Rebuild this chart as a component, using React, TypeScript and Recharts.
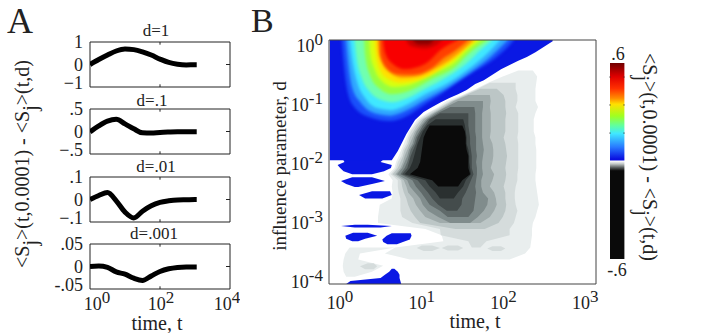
import {
  Area,
  Bar,
  BarChart,
  ComposedChart,
  Line,
  LineChart,
  ReferenceArea,
  ReferenceLine,
  XAxis,
  YAxis,
} from "recharts";

const SERIF = "'Liberation Serif', serif";
const INK = "#222";

// panel A: time samples and one curve per d
const sampleTimes = [1, 1.78, 3.16, 5.62, 10, 17.8, 31.6, 56.2, 100, 178, 316, 562, 1000, 1120];
const curveD1 = [0, 0.22, 0.42, 0.6, 0.69, 0.66, 0.56, 0.42, 0.24, 0.09, 0.01, -0.02, -0.01, -0.01];
const curveD01 = [-0.01, 0.125, 0.23, 0.27, 0.17, 0.06, -0.03, -0.035, -0.02, -0.012, -0.007, -0.007, -0.007, -0.007];
const curveD001 = [0, 0.018, 0.031, -0.006, -0.056, -0.082, -0.052, -0.028, -0.013, -0.006, -0.002, -0.001, 0, 0];
const curveD0001 = [0, 0.001, -0.002, -0.012, -0.017, -0.026, -0.031, -0.021, -0.011, -0.005, -0.002, -0.001, -0.001, -0.001];
const timeTicksA = [1, 100, 10000];

// panel B: the blue and rainbow levels, as log10 t and the lower edge in log10 d
const blueTime = [-0.09, 0.63, 0.7, 0.8, 0.9, 1, 1.1, 1.2, 1.3, 1.4, 1.5, 1.6, 1.7, 1.8, 1.9, 2, 2.1, 2.2, 2.3, 2.4, 2.5];
const blueEdge = [-1.97, -1.97, -1.82, -1.54, -1.31, -1.18, -1.1, -1.02, -0.95, -0.89, -0.82, -0.72, -0.66, -0.57, -0.48, -0.41, -0.34, -0.28, -0.2, -0.11, -0.02];
const azureTime = [0.05, 0.07, 0.12, 0.2, 0.4, 0.6, 0.8, 1, 1.2, 1.4, 1.6, 1.8, 2, 2.05];
const azureEdge = [-0.02, -0.36, -0.87, -1.11, -1.28, -1.33, -1.25, -1.07, -0.89, -0.69, -0.51, -0.33, -0.08, 0];
const skyTime = [0.1, 0.12, 0.17, 0.27, 0.43, 0.62, 0.78, 1.02, 1.28, 1.5, 1.75, 1.98];
const skyEdge = [-0.02, -0.33, -0.78, -1.03, -1.2, -1.24, -1.17, -0.98, -0.78, -0.57, -0.31, 0];
const cyanTime = [0.145, 0.17, 0.23, 0.32, 0.47, 0.63, 0.78, 1.02, 1.28, 1.52, 1.75, 1.89];
const cyanEdge = [-0.02, -0.31, -0.7, -0.95, -1.12, -1.15, -1.08, -0.89, -0.71, -0.48, -0.21, 0];
const mintTime = [0.2, 0.22, 0.28, 0.37, 0.5, 0.64, 0.8, 1.02, 1.28, 1.5, 1.68, 1.8];
const mintEdge = [-0.02, -0.28, -0.62, -0.84, -0.98, -1.02, -0.96, -0.8, -0.6, -0.38, -0.14, 0];
const greenTime = [0.31, 0.32, 0.38, 0.49, 0.63, 0.82, 1.1, 1.37, 1.52, 1.74];
const greenEdge = [-0.02, -0.25, -0.59, -0.8, -0.89, -0.84, -0.64, -0.44, -0.23, 0];
const limeTime = [0.37, 0.38, 0.43, 0.52, 0.65, 0.83, 1.1, 1.37, 1.5, 1.66];
const limeEdge = [-0.02, -0.22, -0.48, -0.68, -0.77, -0.74, -0.55, -0.36, -0.18, 0];
const yellowTime = [0.43, 0.44, 0.49, 0.59, 0.73, 0.9, 1.13, 1.25, 1.37, 1.48, 1.62];
const yellowEdge = [-0.02, -0.2, -0.48, -0.64, -0.7, -0.67, -0.54, -0.42, -0.3, -0.15, 0];
const orangeTime = [0.47, 0.48, 0.53, 0.61, 0.75, 0.92, 1.13, 1.3, 1.45, 1.58];
const orangeEdge = [-0.02, -0.2, -0.4, -0.53, -0.62, -0.6, -0.47, -0.33, -0.17, 0];
const vermilionTime = [0.49, 0.5, 0.57, 0.69, 0.87, 1.1, 1.25, 1.34, 1.52];
const vermilionEdge = [-0.02, -0.26, -0.46, -0.56, -0.57, -0.46, -0.28, -0.2, 0];
const redTime = [0.53, 0.55, 0.64, 0.78, 1.02, 1.2, 1.4];
const redEdge = [-0.02, -0.2, -0.39, -0.48, -0.39, -0.16, 0];
const crimsonTime = [0.8, 0.85, 1, 1.15, 1.22];
const crimsonEdge = [-0.02, -0.1, -0.14, -0.08, 0];
const maroonTime = [0.88, 0.95, 1.05, 1.12];
const maroonEdge = [-0.02, -0.07, -0.07, 0];

// panel B: rows of log10 d, for the grey levels read as left and right edge in log10 t
const rowDepths = [
  -0.5, -0.6, -0.7, -0.8, -0.9, -1, -1.1, -1.2, -1.3, -1.4, -1.5, -1.6, -1.7, -1.8, -1.9, -2, -2.1,
  -2.2, -2.3, -2.4, -2.5, -2.6, -2.7, -2.8, -2.9, -3, -3.1, -3.2, -3.3, -3.4, -3.5, -3.6, -3.7, -3.8,
];
const grey1Left = [2.1, 1.92, 1.75, 1.61, 1.45, 1.27, 1.17, 1.04, 0.93, 0.88, 0.83, 0.8, 0.77, 0.74, 0.71, 0.68, 0.66, 0.59, 0.64, 0.63, 0.64, 0.63, 0.49, 0.48, 0.47, 0.47, 1.02, 1.21, 1.23, 0.67, 0.55, 0.84];
const grey1Right = [2.27, 2.32, 2.31, 2.3, 2.3, 2.3, 2.33, 2.3, 2.28, 2.28, 2.28, 2.3, 2.3, 2.31, 2.31, 2.31, 2.31, 2.3, 2.3, 2.31, 2.32, 2.33, 2.34, 2.32, 2.3, 2.27, 2.26, 2.26, 2.25, 2.24, 2.18, 2];
const grey2Left = [1.77, 1.63, 1.47, 1.31, 1.19, 1.06, 0.96, 0.9, 0.85, 0.82, 0.8, 0.76, 0.74, 0.7, 0.68, 0.62, 0.7, 0.7, 0.71, 0.73, 0.73, 0.73, 0.75, 0.87, 1.19, 1.2, 1.52, 1.56];
const grey2Right = [2.07, 2.07, 2.09, 2.09, 2.07, 2.1, 2.1, 2.1, 2.1, 2.09, 2.1, 2.1, 2.1, 2.1, 2.1, 2.09, 2.09, 2.07, 2.06, 2.06, 2.07, 2.09, 2.07, 2.05, 2, 2, 1.73, 1.66];
const grey3Left = [1.66, 1.49, 1.33, 1.21, 1.09, 0.98, 0.92, 0.88, 0.84, 0.82, 0.78, 0.76, 0.73, 0.7, 0.64, 0.74, 0.75, 0.77, 0.8, 0.82, 0.85, 0.9, 0.96, 1.37];
const grey3Right = [1.85, 1.93, 1.95, 1.95, 1.96, 1.95, 1.95, 1.95, 1.93, 1.95, 1.96, 1.97, 1.96, 1.95, 1.96, 1.95, 1.93, 1.95, 1.95, 1.96, 1.95, 1.92, 1.87, 1.71];
const grey4Left = [1.52, 1.35, 1.24, 1.11, 1, 0.95, 0.9, 0.87, 0.84, 0.81, 0.78, 0.76, 0.73, 0.67, 0.77, 0.8, 0.82, 0.88, 0.91, 0.96, 1.02, 1.19];
const grey4Right = [1.77, 1.78, 1.77, 1.78, 1.78, 1.78, 1.78, 1.77, 1.8, 1.81, 1.81, 1.8, 1.78, 1.82, 1.8, 1.77, 1.82, 1.84, 1.85, 1.82, 1.77, 1.66];
const grey5Left = [1.4, 1.26, 1.13, 1.03, 0.97, 0.92, 0.89, 0.87, 0.83, 0.81, 0.78, 0.75, 0.69, 0.81, 0.84, 0.9, 0.96, 0.99, 1.05, 1.17, 1.31];
const grey5Right = [1.69, 1.69, 1.68, 1.68, 1.68, 1.68, 1.68, 1.69, 1.7, 1.69, 1.68, 1.68, 1.69, 1.67, 1.67, 1.69, 1.75, 1.74, 1.7, 1.63, 1.54];
const grey6Left = [1.31, 1.16, 1.05, 0.99, 0.95, 0.91, 0.89, 0.85, 0.83, 0.81, 0.78, 0.73, 0.87, 0.91, 0.97, 1.02, 1.07, 1.19, 1.28];
const grey6Right = [1.59, 1.6, 1.6, 1.6, 1.6, 1.61, 1.61, 1.61, 1.62, 1.61, 1.62, 1.62, 1.61, 1.6, 1.61, 1.6, 1.59, 1.58, 1.52];
const grey7Left = [1.19, 1.07, 1.02, 0.97, 0.93, 0.91, 0.88, 0.85, 0.83, 0.81, 0.75, 0.93, 0.99, 1.05, 1.1, 1.17, 1.27];
const grey7Right = [1.52, 1.52, 1.52, 1.53, 1.54, 1.54, 1.55, 1.56, 1.56, 1.56, 1.58, 1.55, 1.52, 1.49, 1.45, 1.44, 1.39];
const grey8Left = [1.14, 1.04, 0.99, 0.96, 0.93, 0.91, 0.89, 0.87, 0.84, 0.78, 1.02, 1.07, 1.14, 1.19];
const grey8Right = [1.46, 1.48, 1.49, 1.5, 1.5, 1.52, 1.53, 1.53, 1.54, 1.55, 1.49, 1.46, 1.4, 1.35];
const blackLeft = [1.07, 1.03, 1, 0.99, 0.98, 0.97, 0.96, 0.93, 0.84, 1.1, 1.17];
const blackRight = [1.45, 1.48, 1.49, 1.49, 1.5, 1.52, 1.52, 1.52, 1.54, 1.45, 1.4];

// panel B: loose patches, each as depth rows with left and right edge
const paleBlobDepth = [-3.4, -3.5, -3.6, -3.7, -3.8, -3.88];
const paleBlobLeft = [0.14, 0.09, 0.07, 0.06, 0.07, 0.1];
const paleBlobRight = [0.67, 0.26, 0.24, 0.53, 0.4, 0.2];
const spotADepth = [-3.37, -3.41, -3.46];
const spotALeft = [0.98, 0.92, 1];
const spotARight = [1.1, 1.19, 1.1];
const spotBDepth = [-3.37, -3.41, -3.45];
const spotBLeft = [1.28, 1.21, 1.28];
const spotBRight = [1.4, 1.46, 1.4];
const spotCDepth = [-3.38, -3.42, -3.46];
const spotCLeft = [1.8, 1.74, 1.8];
const spotCRight = [1.9, 1.95, 1.9];
const spotDDepth = [-3.66, -3.71, -3.76];
const spotDLeft = [0.35, 0.26, 0.32];
const spotDRight = [0.42, 0.46, 0.42];

const lobeDepth = [-1.95, -2, -2.05, -2.1, -2.15, -2.2];
const lobeLeft = [0.06, 0.08, 0, 0.03, 0.07, 0.17];
const lobeRight = [0.54, 0.5, 0.63, 0.62, 0.54, 0.4];
const isleADepth = [-2.25, -2.31, -2.36, -2.41];
const isleALeft = [0.17, 0.04, 0.1, 0.2];
const isleARight = [0.4, 0.55, 0.4, 0.24];
const isleBDepth = [-2.48, -2.54, -2.6];
const isleBLeft = [0.4, 0.25, 0.32];
const isleBRight = [0.61, 0.63, 0.52];
const streakDepth = [-3.03, -3.05, -3.075];
const streakLeft = [0.2, 0.04, 0.2];
const streakRight = [0.35, 0.63, 0.5];
const isleCDepth = [-3.16, -3.21, -3.26, -3.3];
const isleCLeft = [0.18, 0.09, 0.1, 0.17];
const isleCRight = [0.35, 0.46, 0.32, 0.24];
const isleDDepth = [-3.17, -3.21, -3.27, -3.31, -3.35];
const isleDLeft = [0.63, 0.57, 0.52, 0.53, 0.58];
const isleDRight = [0.85, 0.86, 0.84, 0.76, 0.69];
const footDepth = [-3.75, -3.8, -3.85, -3.9, -3.95, -4];
const footLeft = [0.63, 0.6, 0.55, 0.5, 0.15, 0.1];
const footRight = [0.66, 0.7, 0.72, 0.72, 0.73, 0.74];

const timeTicksB = [1, 10, 100, 1000];
const depthTicksB = [1, 0.1, 0.01, 0.001, 0.0001];

// colour bar
const colorStops = [0, 0.07, 0.13, 0.18, 0.21, 0.27, 0.32, 0.36, 0.43, 0.49, 0.495, 0.5, 0.515, 0.535, 0.55, 1];
const colorValues = ["#700000", "#e00000", "#ff3000", "#ff8c00", "#ffe000", "#a0ff20", "#60ffa0", "#40e8ff", "#2878ff", "#0a10e0", "#0a10e0", "#ffffff", "#c0c6c6", "#505555", "#0a0a0a", "#0a0a0a"];
const colorTicks = [0.514, 0.343, 0.171];
const colorRange = [{ name: "scale", span: [-0.6, 0.6] }];

// the contours were read on 86 and 61 px per decade, the axes run at 81.7 and 59
const toTime = (e: number) => 10 ** (e * 1.0526 - 0.029);
const toDepth = (e: number) => 10 ** (e * 1.0339);

// the upper edge runs past the frame, the chart clips it there
const rainbow = (times: number[], edge: number[]) =>
  times.map((t, i) => ({ t: toTime(t), d: [toDepth(edge[i]), 1.6] }));

const patch = (depths: number[], left: number[], right: number[]) =>
  depths.map((d, i) => ({ d: toDepth(d), t: [toTime(left[i]), toTime(right[i])] }));

const level = (firstRow: number, left: number[], right: number[]) =>
  patch(rowDepths.slice(firstRow, firstRow + left.length), left, right);

const TIME_DOMAIN = [10 ** -0.134, 10 ** 3.133];
const DEPTH_DOMAIN = [10 ** -4.136, 1];
const BLUE = "#0a18e4";

function PowerTick({ x, y, value, anchor, dx = 0, dy = 0 }: any) {
  const power = Math.round(Math.log10(value));
  return (
    <text x={x + dx} y={y + dy} textAnchor={anchor} fontFamily={SERIF} fontSize={18} fill={INK}>
      <tspan>10</tspan>
      <tspan dy={-7} fontSize={17}>{power}</tspan>
    </text>
  );
}

function SmallPanel({ top, values, ticks, labels, showTime }: any) {
  const data = sampleTimes.map((t, i) => ({ t, v: values[i] }));
  const edgeShift = [7, 1, -3];
  const low = ticks[2];
  const high = ticks[0];
  const nub = (high - low) * 0.06;
  return (
    <div style={{ position: "absolute", left: 0, top: top - 10 }}>
      <LineChart
        width={240}
        height={showTime ? 100 : 65}
        data={data}
        margin={{ top: 10, right: 10, bottom: showTime ? 0 : 10, left: 55 }}
      >
        <XAxis
          dataKey="t"
          type="number"
          scale="log"
          domain={[1, 10000]}
          allowDataOverflow
          ticks={timeTicksA}
          height={showTime ? 45 : 0}
          hide={!showTime}
          axisLine={false}
          tickLine={false}
          interval={0}
          tick={(p: any) => (
            <PowerTick x={p.x} y={p.y} value={p.payload.value} anchor="middle" dx={edgeShift[p.index]} dy={13} />
          )}
        />
        <YAxis
          type="number"
          domain={[low, high]}
          ticks={ticks}
          width={35}
          axisLine={false}
          tickLine={false}
          interval={0}
          tick={(p: any) => (
            <text
              x={p.x + 1}
              y={p.y + (p.payload.value < 0 ? 2 : 6)}
              textAnchor="end"
              fontFamily={SERIF}
              fontSize={18}
              fill={INK}
            >
              {labels[ticks.indexOf(p.payload.value)]}
            </text>
          )}
        />
        <ReferenceArea x1={1} x2={10000} y1={low} y2={high} fill="none" stroke="#222" strokeWidth={1} />
        <ReferenceLine segment={[{ x: 1, y: 0 }, { x: 1.3, y: 0 }]} stroke="#222" />
        <ReferenceLine segment={[{ x: 7700, y: 0 }, { x: 10000, y: 0 }]} stroke="#222" />
        <ReferenceLine segment={[{ x: 100, y: low }, { x: 100, y: low + nub }]} stroke="#222" />
        <ReferenceLine segment={[{ x: 100, y: high - nub }, { x: 100, y: high }]} stroke="#222" />
        <Line dataKey="v" type="monotone" stroke="#000" strokeWidth={5} dot={false} isAnimationActive={false} />
      </LineChart>
    </div>
  );
}

function ScaleLabel({ x, y, angle }: { x: number; y: number; angle: number }) {
  const drop = 8;
  return (
    <text
      transform={`translate(${x},${y}) rotate(${angle})`}
      fontFamily={SERIF}
      fontSize={20}
      fill={INK}
    >
      <tspan>&lt;S</tspan>
      <tspan dy={drop}>j</tspan>
      <tspan dy={-drop}>&gt;(t,0.0001) - &lt;S</tspan>
      <tspan dy={drop}>j</tspan>
      <tspan dy={-drop}>&gt;(t,d)</tspan>
    </text>
  );
}

function Contours() {
  const margin = { top: 40, right: 110, bottom: 49, left: 329 };
  const greys = [
    { fill: "#e9eeee", data: level(0, grey1Left, grey1Right) },
    { fill: "#e9eeee", data: patch(paleBlobDepth, paleBlobLeft, paleBlobRight) },
    { fill: "#d5dcdc", data: patch(spotADepth, spotALeft, spotARight) },
    { fill: "#d5dcdc", data: patch(spotBDepth, spotBLeft, spotBRight) },
    { fill: "#d5dcdc", data: patch(spotCDepth, spotCLeft, spotCRight) },
    { fill: "#d5dcdc", data: patch(spotDDepth, spotDLeft, spotDRight) },
    { fill: "#d5dcdc", data: level(2, grey2Left, grey2Right) },
    { fill: "#bcc6c6", data: level(3, grey3Left, grey3Right) },
    { fill: "#a0abab", data: level(4, grey4Left, grey4Right) },
    { fill: "#808c8c", data: level(5, grey5Left, grey5Right) },
    { fill: "#606a6a", data: level(6, grey6Left, grey6Right) },
    { fill: "#444c4c", data: level(7, grey7Left, grey7Right) },
    { fill: "#2a3030", data: level(8, grey8Left, grey8Right) },
    { fill: "#0a0a0a", data: level(9, blackLeft, blackRight) },
  ];
  const isles = [
    patch(lobeDepth, lobeLeft, lobeRight),
    patch(isleADepth, isleALeft, isleARight),
    patch(isleBDepth, isleBLeft, isleBRight),
    patch(streakDepth, streakLeft, streakRight),
    patch(isleCDepth, isleCLeft, isleCRight),
    patch(isleDDepth, isleDLeft, isleDRight),
    patch(footDepth, footLeft, footRight),
  ];
  const bands = [
    { fill: "#1a50fa", data: rainbow(azureTime, azureEdge) },
    { fill: "#30a8ff", data: rainbow(skyTime, skyEdge) },
    { fill: "#40e8ff", data: rainbow(cyanTime, cyanEdge) },
    { fill: "#70ffb0", data: rainbow(mintTime, mintEdge) },
    { fill: "#98ff40", data: rainbow(greenTime, greenEdge) },
    { fill: "#d8ff10", data: rainbow(limeTime, limeEdge) },
    { fill: "#ffe000", data: rainbow(yellowTime, yellowEdge) },
    { fill: "#ff9400", data: rainbow(orangeTime, orangeEdge) },
    { fill: "#ff4000", data: rainbow(vermilionTime, vermilionEdge) },
    { fill: "#f80000", data: rainbow(redTime, redEdge) },
    { fill: "#c80000", data: rainbow(crimsonTime, crimsonEdge) },
    { fill: "#8a0000", data: rainbow(maroonTime, maroonEdge) },
  ];
  return (
    <>
      <div style={{ position: "absolute", left: 0, top: 0 }}>
        <ComposedChart width={706} height={333} layout="vertical" margin={margin}>
          <XAxis type="number" scale="log" domain={TIME_DOMAIN} allowDataOverflow hide />
          {/* a vertical layout runs its y axis downwards */}
          <YAxis dataKey="d" type="number" scale="log" domain={DEPTH_DOMAIN} allowDataOverflow reversed hide />
          {greys.map((g, i) => (
            <Area
              key={i}
              data={g.data}
              dataKey="t"
              type="linear"
              fill={g.fill}
              fillOpacity={1}
              stroke="none"
              dot={false}
              activeDot={false}
              isAnimationActive={false}
            />
          ))}
          {isles.map((data, i) => (
            <Area
              key={i}
              data={data}
              dataKey="t"
              type="linear"
              fill={BLUE}
              fillOpacity={1}
              stroke="none"
              dot={false}
              activeDot={false}
              isAnimationActive={false}
            />
          ))}
        </ComposedChart>
      </div>
      <div style={{ position: "absolute", left: 0, top: 0 }}>
        <ComposedChart
          width={706}
          height={333}
          margin={{ top: 40, right: 110, bottom: 19, left: 279 }}
        >
          <XAxis
            dataKey="t"
            type="number"
            scale="log"
            domain={TIME_DOMAIN}
            allowDataOverflow
            ticks={timeTicksB}
            height={30}
            axisLine={false}
            tickLine={false}
            interval={0}
            tick={(p: any) => (
              <PowerTick x={p.x} y={p.y} value={p.payload.value} anchor="middle" dy={17} />
            )}
          />
          <YAxis
            type="number"
            scale="log"
            domain={DEPTH_DOMAIN}
            allowDataOverflow
            ticks={depthTicksB}
            width={50}
            axisLine={false}
            tickLine={false}
            interval={0}
            tick={(p: any) => (
              <PowerTick x={p.x} y={p.y} value={p.payload.value} anchor="end" dx={2} dy={12} />
            )}
          />
          <Area
            data={rainbow(blueTime, blueEdge)}
            dataKey="d"
            type="linear"
            fill={BLUE}
            fillOpacity={1}
            stroke="none"
            dot={false}
            activeDot={false}
            isAnimationActive={false}
          />
          {bands.map((b, i) => (
            <Area
              key={i}
              data={b.data}
              dataKey="d"
              type="monotone"
              className="soft"
              fill={b.fill}
              fillOpacity={1}
              stroke="none"
              dot={false}
              activeDot={false}
              isAnimationActive={false}
            />
          ))}
          <ReferenceArea
            x1={TIME_DOMAIN[0]}
            x2={TIME_DOMAIN[1]}
            y1={DEPTH_DOMAIN[0]}
            y2={DEPTH_DOMAIN[1]}
            fill="none"
            stroke="#444"
            strokeWidth={1}
          />
        </ComposedChart>
      </div>
    </>
  );
}

function ColorBar() {
  return (
    <div style={{ position: "absolute", left: 609, top: 63 }}>
      <BarChart width={16} height={196} data={colorRange} margin={{ top: 0, right: 0, bottom: 0, left: 0 }}>
        <defs>
          <linearGradient id="colormap" x1="0" y1="0" x2="0" y2="1">
            {colorStops.map((s, i) => (
              <stop key={i} offset={s} stopColor={colorValues[i]} />
            ))}
          </linearGradient>
        </defs>
        <XAxis dataKey="name" hide />
        <YAxis type="number" domain={[-0.6, 0.6]} hide />
        <Bar dataKey="span" barSize={16} fill="url(#colormap)" isAnimationActive={false} />
        {colorTicks.map((v) => (
          <ReferenceLine key={v} y={v} stroke="#333" strokeOpacity={0.6} strokeDasharray="2 12 2" />
        ))}
      </BarChart>
    </div>
  );
}

export default function App() {
  const title = { fontFamily: SERIF, fontSize: 17, fill: INK, textAnchor: "middle" as const };
  return (
    <div style={{ position: "absolute", left: 0, top: 0, width: 706, height: 333, background: "#fff", overflow: "hidden" }}>
      <style>{`.soft path { filter: blur(1.5px); }`}</style>
      <SmallPanel top={42} values={curveD1} ticks={[1, 0, -1]} labels={["1", "0", "\u22121"]} />
      <SmallPanel top={109} values={curveD01} ticks={[0.5, 0, -0.5]} labels={[".5", "0", "\u2212.5"]} />
      <SmallPanel top={177} values={curveD001} ticks={[0.1, 0, -0.1]} labels={[".1", "0", "\u2212.1"]} />
      <SmallPanel top={244} values={curveD0001} ticks={[0.05, 0, -0.05]} labels={[".05", "0", "-.05"]} showTime />
      <Contours />
      <ColorBar />
      <svg width={706} height={333} style={{ position: "absolute", left: 0, top: 0, pointerEvents: "none" }}>
        <text x={7} y={33} fontFamily={SERIF} fontSize={36} fill={INK}>A</text>
        <text x={251} y={32} fontFamily={SERIF} fontSize={34} fill={INK}>B</text>
        <text x={156} y={36} {...title}>d=1</text>
        <text x={152} y={106} {...title}>d=.1</text>
        <text x={156} y={172} {...title}>d=.01</text>
        <text x={154} y={239} {...title}>d=.001</text>
        <ScaleLabel x={29} y={268} angle={-90} />
        <ScaleLabel x={643} y={53} angle={90} />
        <text x={157} y={330} fontFamily={SERIF} fontSize={20} fill={INK} textAnchor="middle">time, t</text>
        <text x={475} y={328} fontFamily={SERIF} fontSize={20} fill={INK} textAnchor="middle">time, t</text>
        <text
          transform="translate(286,166) rotate(-90)"
          fontFamily={SERIF}
          fontSize={19}
          fill={INK}
          textAnchor="middle"
        >
          influence parameter, d
        </text>
        <text x={618} y={60} fontFamily={SERIF} fontSize={18} fill={INK} textAnchor="middle">.6</text>
        <text x={617} y={276} fontFamily={SERIF} fontSize={18} fill={INK} textAnchor="middle">-.6</text>
      </svg>
    </div>
  );
}
